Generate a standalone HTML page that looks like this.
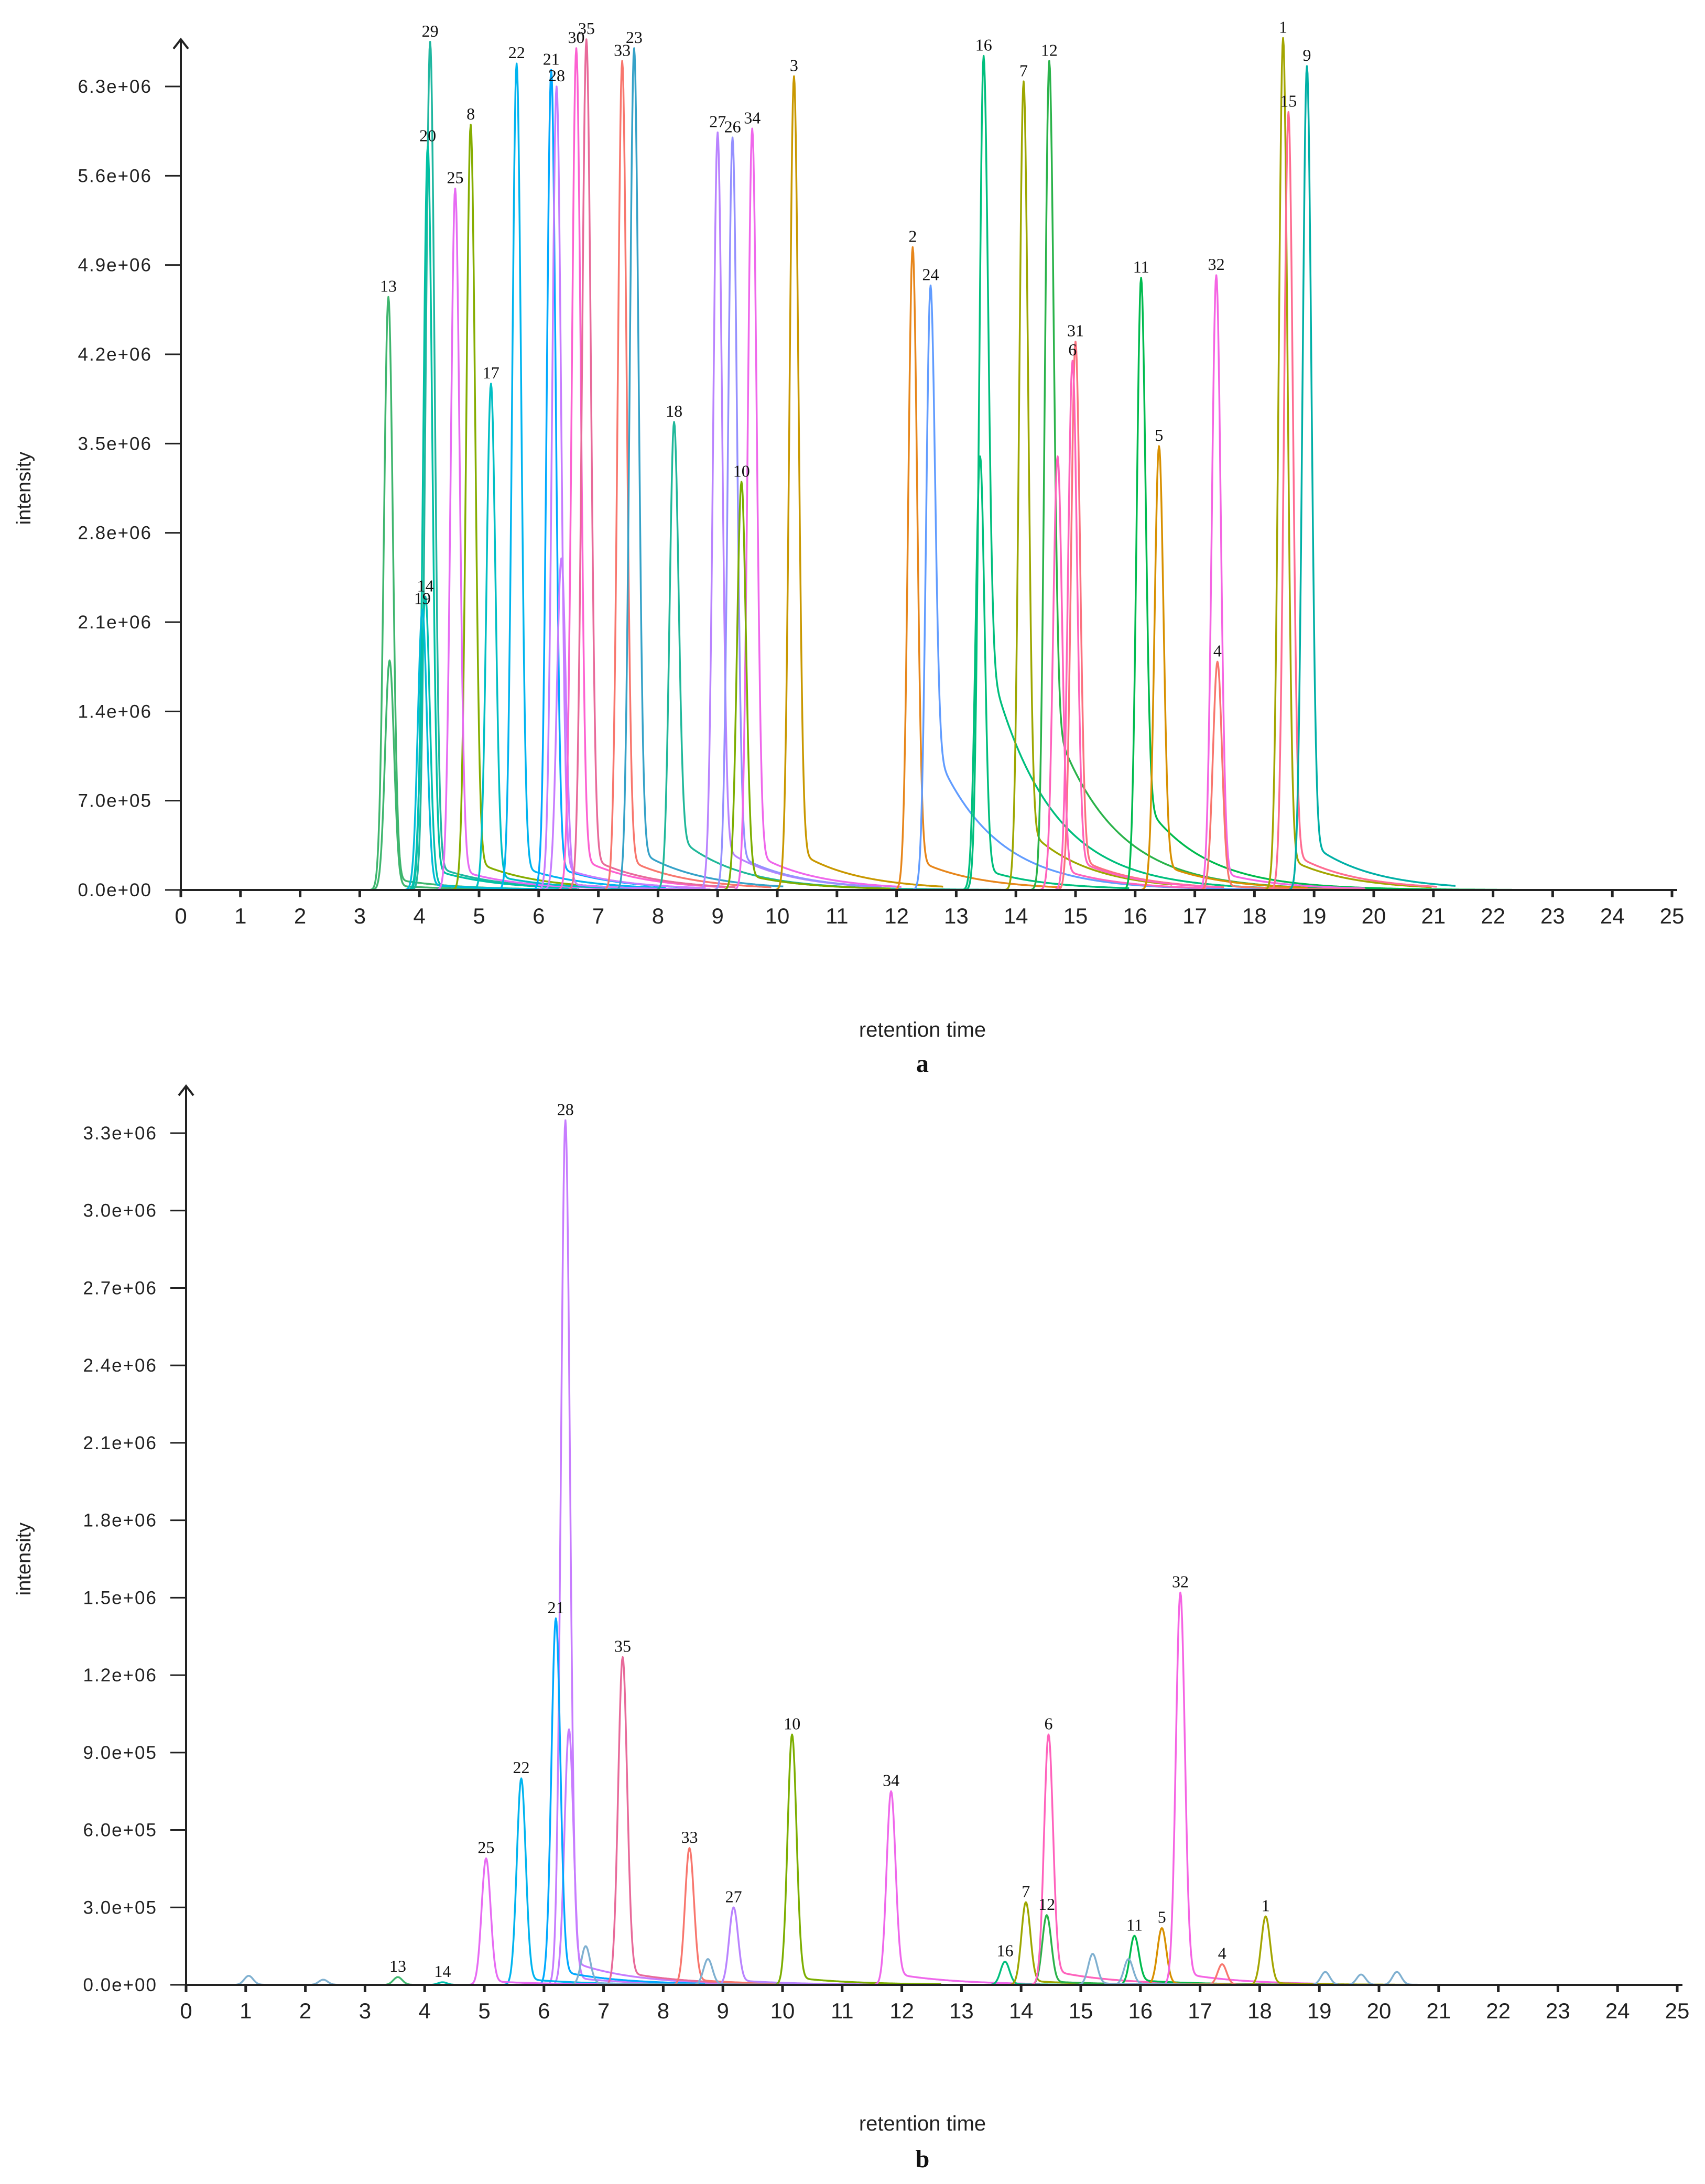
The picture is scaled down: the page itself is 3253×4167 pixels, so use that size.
<!DOCTYPE html>
<html><head><meta charset="utf-8"><style>
html,body{margin:0;padding:0;background:#fff;}
svg{display:block;}
</style></head><body>
<svg id="fig" xmlns="http://www.w3.org/2000/svg" width="3253" height="4167" viewBox="0 0 3253 4167">
<rect width="3253" height="4167" fill="#fff"/>
</svg>
<script>
// ---------- Panel a data ----------
const aIds     = ['13','13b','29','20','14','19','8','25','17','22','21','28','28b','30','35','33','23','18','27','26','34','10','3','2','24','16','16b','7','12','31','6','6b','11','5','32','4','1','15','9'];
const aRT      = [3.48,3.5,4.18,4.14,4.1,4.05,4.86,4.6,5.2,5.63,6.21,6.3,6.38,6.63,6.8,7.4,7.6,8.27,9.0,9.25,9.58,9.4,10.28,12.27,12.57,13.46,13.4,14.13,14.56,15.0,14.95,14.7,16.1,16.4,17.36,17.38,18.48,18.57,18.88];
const aHeight  = [4.65e6,1.8e6,6.65e6,5.83e6,2.3e6,2.2e6,6.0e6,5.5e6,3.97e6,6.48e6,6.43e6,6.3e6,2.6e6,6.6e6,6.67e6,6.5e6,6.6e6,3.67e6,5.94e6,5.9e6,5.97e6,3.2e6,6.38e6,5.04e6,4.74e6,6.54e6,3.4e6,6.34e6,6.5e6,4.3e6,4.15e6,3.4e6,4.8e6,3.48e6,4.82e6,1.79e6,6.68e6,6.1e6,6.46e6];
const aTail    = [0.02,0.02,0.03,0.03,0.02,0.02,0.04,0.03,0.03,0.03,0.03,0.03,0.02,0.04,0.04,0.04,0.05,0.12,0.06,0.05,0.05,0.04,0.05,0.05,0.25,0.3,0.05,0.08,0.22,0.06,0.06,0.05,0.15,0.06,0.03,0.02,0.04,0.05,0.06];
const aLabel   = ['13','','29','20','14','19','8','25','17','22','21','28','','30','35','33','23','18','27','26','34','10','3','2','24','16','','7','12','31','6','','11','5','32','4','1','15','9'];
const aYTicks  = [0,7e5,1.4e6,2.1e6,2.8e6,3.5e6,4.2e6,4.9e6,5.6e6,6.3e6];
const aYLabels = ['0.0e+00','7.0e+05','1.4e+06','2.1e+06','2.8e+06','3.5e+06','4.2e+06','4.9e+06','5.6e+06','6.3e+06'];

// ---------- Panel b data ----------
const bIds     = ['28','28b','21','22','25','35','33','27','10','34','16','7','12','6','11','5','32','4','1','13','14','x1','x2','x3','x4','x5','x6','x7','x8','x9'];
const bRT      = [6.36,6.42,6.2,5.62,5.03,7.32,8.44,9.18,10.16,11.82,13.73,14.08,14.43,14.46,15.9,16.36,16.67,17.37,18.1,3.55,4.3,1.05,2.3,15.2,15.8,8.75,6.7,19.1,20.3,19.7];
const bHeight  = [3.35e6,9.9e5,1.42e6,8.0e5,4.9e5,1.27e6,5.3e5,3.0e5,9.7e5,7.5e5,9e4,3.2e5,2.7e5,9.7e5,1.9e5,2.2e5,1.52e6,8e4,2.65e5,3e4,1e4,3.5e4,2e4,1.2e5,1e5,1e5,1.5e5,5e4,5e4,4e4];
const bTail    = [0.03,0.03,0.04,0.03,0.03,0.04,0.04,0.06,0.03,0.06,0.03,0.05,0.05,0.06,0.1,0.03,0.03,0.02,0.03,0.02,0.02,0.02,0.02,0.05,0.05,0.03,0.05,0.02,0.02,0.02];
const bLabel   = ['28','','21','22','25','35','33','27','10','34','16','7','12','6','11','5','32','4','1','13','14','','','','','','','','',''];
const bYTicks  = [0,3e5,6e5,9e5,1.2e6,1.5e6,1.8e6,2.1e6,2.4e6,2.7e6,3.0e6,3.3e6];
const bYLabels = ['0.0e+00','3.0e+05','6.0e+05','9.0e+05','1.2e+06','1.5e+06','1.8e+06','2.1e+06','2.4e+06','2.7e+06','3.0e+06','3.3e+06'];

const xTicks = [0,1,2,3,4,5,6,7,8,9,10,11,12,13,14,15,16,17,18,19,20,21,22,23,24,25];

const colorMap = {'1':'#a3a500','2':'#e7861b','3':'#c99800','4':'#f8766d','5':'#d89000','6':'#ff62bc','7':'#9da700','8':'#85ad00','9':'#00b0a6','10':'#7cae00','11':'#00bb4e','12':'#2ab34a','13':'#3fb66e','14':'#00c0af','15':'#ff6c91','16':'#00bf7d','17':'#00bfc4','18':'#20b89a','19':'#00bcd8','20':'#00c1a3','21':'#00a9ff','22':'#00b4ef','23':'#35a2c8','24':'#619cff','25':'#e76bf3','26':'#9590ff','27':'#b983ff','28':'#c77cff','29':'#1fb7a0','30':'#fd61d1','31':'#fc717f','32':'#f564e3','33':'#f8766d','34':'#ef67eb','35':'#e86a9a'};

const NS = 'http://www.w3.org/2000/svg';
const svg = document.getElementById('fig');
function mk(tag, attrs, parent){const e=document.createElementNS(NS,tag);for(const k in attrs)e.setAttribute(k,attrs[k]);(parent||svg).appendChild(e);return e;}
function colorFor(id){const k=id.replace(/[a-z]\d*$/,'');return colorMap[k]||'#7fb0d0';}

function peakVal(t, rt, h, tail){
  const s=0.075; const d=t-rt;
  if(d<0) return h*Math.exp(-d*d/(2*s*s));
  return h*((1-tail)*Math.exp(-d*d/(2*s*s)) + tail*Math.exp(-d/1.0));
}

function panel(cfg){
  const {x0,x1,y0,yTop,yMax,ids,rts,hs,tails,labels,yTicks,yLabels,name,letterY,letter,titleY}=cfg;
  const xs = v => x0 + (x1-x0)*v/25;
  const ys = v => y0 - (y0-yTop)*v/yMax;
  const g = mk('g',{});
  
  
  for(let i=0;i<ids.length;i++){
    let d='';
    const start=Math.max(0,rts[i]-0.4), end=Math.min(25,rts[i]+(tails[i]>0.1?8:2.5));
    for(let t=start;t<=end;t+=0.01){
      const v=peakVal(t,rts[i],hs[i],tails[i]);
      d+=(d?'L':'M')+xs(t).toFixed(1)+','+ys(v).toFixed(1);
    }
    const p=mk('path',{d:d,fill:'none',stroke:colorFor(ids[i]),'stroke-width':3.5,'stroke-linejoin':'round'},g);
    
    
  }
  const ax=mk('line',{x1:x0,y1:y0,x2:xs(25)+10,y2:y0,stroke:'#222','stroke-width':4},g);
  
  
  const ay=mk('line',{x1:x0,y1:y0+12,x2:x0,y2:yTop-90,stroke:'#222','stroke-width':4},g);
  
  
  const ar=mk('path',{d:`M${x0-14},${yTop-72} L${x0},${yTop-90} L${x0+14},${yTop-72}`,fill:'none',stroke:'#222','stroke-width':4},g);
  
  
  for(let i=0;i<yTicks.length;i++){
    const y=ys(yTicks[i]);
    mk('line',{x1:x0-30,y1:y,x2:x0,y2:y,stroke:'#222','stroke-width':3},g);
    const t=mk('text',{x:x0-55,y:y+12,'text-anchor':'end','font-family':'Liberation Sans, sans-serif','font-size':35,fill:'#222','letter-spacing':'2'},g);
    t.textContent=yLabels[i];
    
    
  }
  for(let i=0;i<xTicks.length;i++){
    const x=xs(xTicks[i]);
    mk('line',{x1:x,y1:y0,x2:x,y2:y0+14,stroke:'#222','stroke-width':5},g);
    const t=mk('text',{x:x,y:y0+64,'text-anchor':'middle','font-family':'Liberation Sans, sans-serif','font-size':42,fill:'#222'},g);
    t.textContent=String(xTicks[i]);
    
    
  }
  for(let i=0;i<ids.length;i++){
    if(!labels[i]) continue;
    const t=mk('text',{x:xs(rts[i]),y:ys(hs[i])-10,'text-anchor':'middle','font-family':'Liberation Serif, serif','font-size':32,fill:'#111'},g);
    t.textContent=labels[i];
    
    
  }
  const yt=mk('text',{x:0,y:0,'text-anchor':'middle','font-family':'Liberation Sans, sans-serif','font-size':38,fill:'#222',transform:`translate(58,${(y0+yTop)/2}) rotate(-90)`},g);
  yt.textContent='intensity';
  
  
  const xt=mk('text',{x:1760,y:titleY,'text-anchor':'middle','font-family':'Liberation Sans, sans-serif','font-size':40,fill:'#222'},g);
  xt.textContent='retention time';
  
  
  const lt=mk('text',{x:1760,y:letterY,'text-anchor':'middle','font-family':'Liberation Serif, serif','font-size':48,'font-weight':'bold',fill:'#111'},g);
  lt.textContent=letter;
  
  
}

panel({x0:345,x1:3190,y0:1698,yTop:165,yMax:6.3e6,ids:aIds,rts:aRT,hs:aHeight,tails:aTail,labels:aLabel,yTicks:aYTicks,yLabels:aYLabels,name:'panel-a',titleY:1978,letter:'a',letterY:2045});
panel({x0:355,x1:3200,y0:3787,yTop:2162,yMax:3.3e6,ids:bIds,rts:bRT,hs:bHeight,tails:bTail,labels:bLabel,yTicks:bYTicks,yLabels:bYLabels,name:'panel-b',titleY:4065,letter:'b',letterY:4135});
</script>
</body></html>
